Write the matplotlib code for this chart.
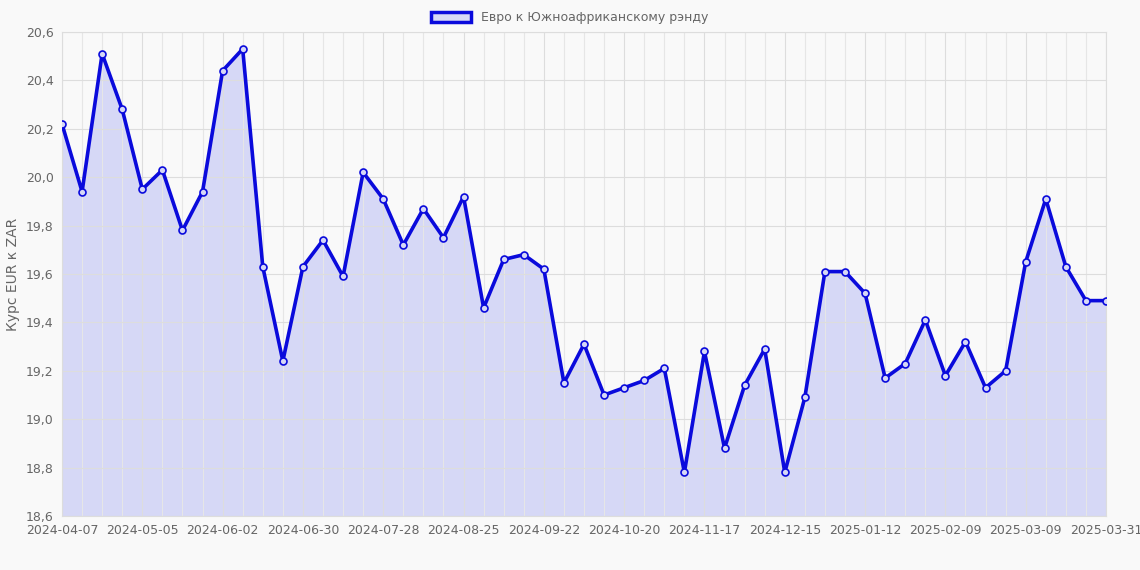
import matplotlib
matplotlib.use("Agg")
import matplotlib.pyplot as plt
import matplotlib.patches as mpatches
import pandas as pd

dates = [d.strftime("%Y-%m-%d") for d in pd.date_range("2024-04-07", periods=52, freq="7D")] + ["2025-03-31"]
values = [20.22, 19.94, 20.51, 20.28, 19.95, 20.03, 19.78, 19.94, 20.44, 20.53,
          19.63, 19.24, 19.63, 19.74, 19.59, 20.02, 19.91, 19.72, 19.87, 19.75,
          19.92, 19.46, 19.66, 19.68, 19.62, 19.15, 19.31, 19.10, 19.13, 19.16,
          19.21, 18.78, 19.28, 18.88, 19.14, 19.29, 18.78, 19.09, 19.61, 19.61,
          19.52, 19.17, 19.23, 19.41, 19.18, 19.32, 19.13, 19.20, 19.65, 19.91,
          19.63, 19.49, 19.49]
label = "Евро к Южноафриканскому рэнду"
yticks = [18.6, 18.8, 19.0, 19.2, 19.4, 19.6, 19.8, 20.0, 20.2, 20.4, 20.6]

bg = "#f9f9f9"
fig = plt.figure(figsize=(11.4, 5.7), dpi=100, facecolor=bg)
ax = fig.add_axes([62/1140, 1-516/570, (1106-62)/1140, (516-32)/570], facecolor=bg)
x = list(range(len(values)))
ax.fill_between(x, values, 18.6, color="#d6d8f6", zorder=1)
ax.plot(x, values, color="#0a0adc", lw=2.6, zorder=3, marker="o", ms=5,
        mfc="#d6d8f6", mec="#0a0adc", mew=1.2)
ax.set_xlim(0, len(values)-1)
ax.set_ylim(18.6, 20.6)
ax.set_yticks(yticks)
ax.set_yticklabels([f"{v:.1f}".replace(".", ",") for v in yticks])
tick_idx = list(range(0, len(values)-1, 4)) + [len(values)-1]
ax.set_xticks(tick_idx)
ax.set_xticklabels([dates[i] for i in tick_idx])
ax.set_xticks(x, minor=True)
ax.grid(True, which="major", color="#dddddd", lw=0.8, zorder=0)
ax.grid(True, which="minor", axis="x", color="#e6e6e6", lw=0.8, zorder=0)
ax.tick_params(colors="#666666", labelsize=9, length=0, pad=6)
ax.tick_params(which="minor", length=0)
for s in ax.spines.values():
    s.set_color("#dddddd")
ax.set_ylabel("Курс EUR к ZAR", color="#666666", fontsize=10)
h = mpatches.Patch(facecolor="#d6d8f6", edgecolor="#0a0adc", lw=2.5, label=label)
fig.legend(handles=[h], loc="upper center", bbox_to_anchor=(0.5, 1.0), frameon=False,
           fontsize=9, labelcolor="#666666", handlelength=3.2, handleheight=0.9)
fig.savefig("out.png", dpi=100, facecolor=bg)
